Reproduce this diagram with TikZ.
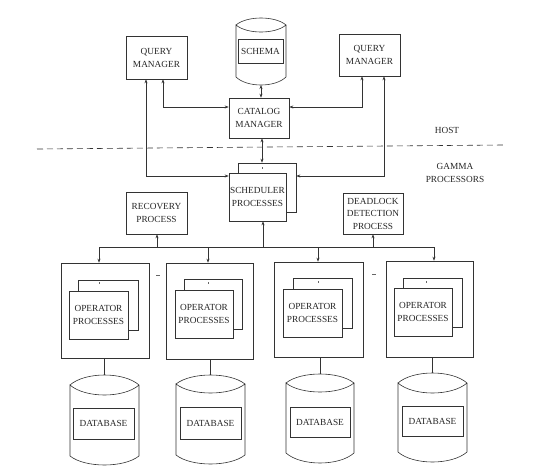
\documentclass[tikz,border=0pt]{standalone}
\usepackage{fontspec}
\setmainfont{Liberation Serif}
\usetikzlibrary{arrows.meta}
\newcommand\boxfont{\fontsize{9.3}{13}\selectfont}
\newcommand\drawcyl[6]{% left right peak sidetop sidebottom bottompeak
  \draw[ln] (#1,#4) .. controls ({#1+0.22*(#2-#1)},{#4+(#3-#4)*4/3}) and ({#2-0.22*(#2-#1)},{#4+(#3-#4)*4/3}) .. (#2,#4)
    .. controls ({#2-0.22*(#2-#1)},{#4-(#3-#4)*4/3}) and ({#1+0.22*(#2-#1)},{#4-(#3-#4)*4/3}) .. (#1,#4)
    -- (#1,#5)
    .. controls ({#1+0.22*(#2-#1)},{#5+(#6-#5)*4/3}) and ({#2-0.22*(#2-#1)},{#5+(#6-#5)*4/3}) .. (#2,#5)
    -- (#2,#4);
}
\begin{document}
\begin{tikzpicture}[x=1pt,y=-1pt,
  ln/.style={draw=black!80, line width=0.6pt},
  box/.style={ln, inner sep=0pt, align=center, font=\boxfont, text=black!85},
  wbox/.style={box, fill=white},
  lbl/.style={inner sep=0pt, align=center, font=\boxfont, text=black!85},
  one/.style={ln, -{Stealth[length=4pt,width=3pt]}},
  two/.style={ln, {Stealth[length=4pt,width=3pt]}-{Stealth[length=4pt,width=3pt]}},
  tickmk/.style={draw=black!60, line width=0.5pt}]
\useasboundingbox (0,0) rectangle (550,472);

% ---------- host ----------
\node[box, minimum width=61pt, minimum height=43pt] (qm1) at (156.5,57.5) {QUERY\\MANAGER};
\node[box, minimum width=61pt, minimum height=42pt] (qm2) at (369.5,55) {QUERY\\MANAGER};
\drawcyl{236}{286}{18}{25}{77}{85}
\node[box, minimum width=45pt, minimum height=24pt] (schema) at (260.5,51) {SCHEMA};
\node[box, minimum width=60pt, minimum height=40pt] (catalog) at (259,118) {CATALOG\\MANAGER};

\node[lbl] (host) at (447,130) {HOST};
\node[lbl] (gamma) at (455,173) {GAMMA\\PROCESSORS};

\draw[ln, dash pattern=on 6pt off 4pt] (37,149) -- (503,145);

% ---------- scheduler etc ----------
\node[box, minimum width=58pt, minimum height=49pt] (sback) at (267,187.5) {};
\draw[tickmk] (262,167) -- (262,169);
\node[wbox, minimum width=57pt, minimum height=48pt] (sched) at (257.5,197) {SCHEDULER\\PROCESSES};
\node[box, minimum width=61pt, minimum height=42pt] (recov) at (156.5,213) {RECOVERY\\PROCESS};
\node[box, minimum width=60pt, minimum height=41pt, font=\fontsize{9.3}{12.5}\selectfont] (dead) at (373,213.5) {DEADLOCK\\DETECTION\\PROCESS};

% host connectors
\coordinate (k1) at (146,176);
\coordinate (k2) at (163,107);
\coordinate (k3) at (362,107);
\coordinate (k4) at (384,176);
\coordinate (sc) at (261,85);
\coordinate (cs) at (262,150);
\draw[two] (qm1.south -| k1) -- (k1) -- (sched.west |- k1);
\draw[two] (qm1.south -| k2) -- (k2) -- (catalog.west |- k2);
\draw[two] (qm2.south -| k3) -- (k3) -- (catalog.east |- k3);
\draw[two] (qm2.south -| k4) -- (k4) -- (sback.east |- k4);
\draw[two] (sc) -- (sc |- catalog.north);
\draw[two] (catalog.south -| cs) -- (sback.north -| cs);

% ---------- operator boxes ----------
\node[box, minimum width=88pt, minimum height=95pt] (op1) at (105,310.5) {};
\node[box, minimum width=60pt, minimum height=50pt] (ob1) at (108,305) {};
\node[wbox, minimum width=59pt, minimum height=48pt] (of1) at (98.5,315) {OPERATOR\\PROCESSES};

\node[box, minimum width=87pt, minimum height=96pt] (op2) at (209.5,311) {};
\node[box, minimum width=58pt, minimum height=50pt] (ob2) at (213,304) {};
\node[wbox, minimum width=58pt, minimum height=48pt] (of2) at (204,314) {OPERATOR\\PROCESSES};

\node[box, minimum width=89pt, minimum height=95pt] (op3) at (318.5,309.5) {};
\node[box, minimum width=59pt, minimum height=50pt] (ob3) at (322.5,303) {};
\node[wbox, minimum width=59pt, minimum height=48pt] (of3) at (312.5,313) {OPERATOR\\PROCESSES};

\node[box, minimum width=87pt, minimum height=96pt] (op4) at (429.5,309) {};
\node[box, minimum width=59pt, minimum height=49pt] (ob4) at (432.5,302.5) {};
\node[wbox, minimum width=58pt, minimum height=48pt] (of4) at (423,312) {OPERATOR\\PROCESSES};

% tiny marks in back boxes and ellipsis dashes
\draw[tickmk] (99,282) -- (99,284);
\draw[tickmk] (208,282) -- (208,284);
\draw[tickmk] (318,281) -- (318,283);
\draw[tickmk] (426,281) -- (426,283);
\draw[tickmk] (156,275) -- (160,275);
\draw[tickmk] (372,274) -- (376,274);

% bus
\coordinate (b1) at (99,247);
\coordinate (b2) at (208,247);
\coordinate (b3) at (318,247);
\coordinate (b4) at (434,247);
\coordinate (br) at (157,247);
\coordinate (bs) at (263,247);
\coordinate (bd) at (373,247);
\draw[ln] (b1) -- (b4);
\draw[one] (b1) -- (b1 |- op1.north);
\draw[one] (b2) -- (b2 |- op2.north);
\draw[one] (b3) -- (b3 |- op3.north);
\draw[one] (b4) -- (b4 |- op4.north);
\draw[one] (br) -- (br |- recov.south);
\draw[one] (bs) -- (bs |- sched.south);
\draw[one] (bd) -- (bd |- dead.south);

% ---------- databases ----------
\drawcyl{70}{139}{375}{385}{456}{465}
\drawcyl{176}{245}{375}{384}{455}{464}
\drawcyl{286}{354}{374}{383}{453}{463}
\drawcyl{398}{467}{373}{383}{452}{462}
\node[box, minimum width=61pt, minimum height=31pt] (db1) at (103.5,423.5) {DATABASE};
\node[box, minimum width=61pt, minimum height=32pt] (db2) at (210.5,423) {DATABASE};
\node[box, minimum width=60pt, minimum height=30pt] (db3) at (320,422) {DATABASE};
\node[box, minimum width=61pt, minimum height=30pt] (db4) at (432.5,421) {DATABASE};
\coordinate (t1) at (104.5,375);
\coordinate (t2) at (210.5,375);
\coordinate (t3) at (320,374);
\coordinate (t4) at (432.5,373);
\draw[ln] (op1.south -| t1) -- (t1);
\draw[ln] (op2.south -| t2) -- (t2);
\draw[ln] (op3.south -| t3) -- (t3);
\draw[ln] (op4.south -| t4) -- (t4);
\end{tikzpicture}
\end{document}
